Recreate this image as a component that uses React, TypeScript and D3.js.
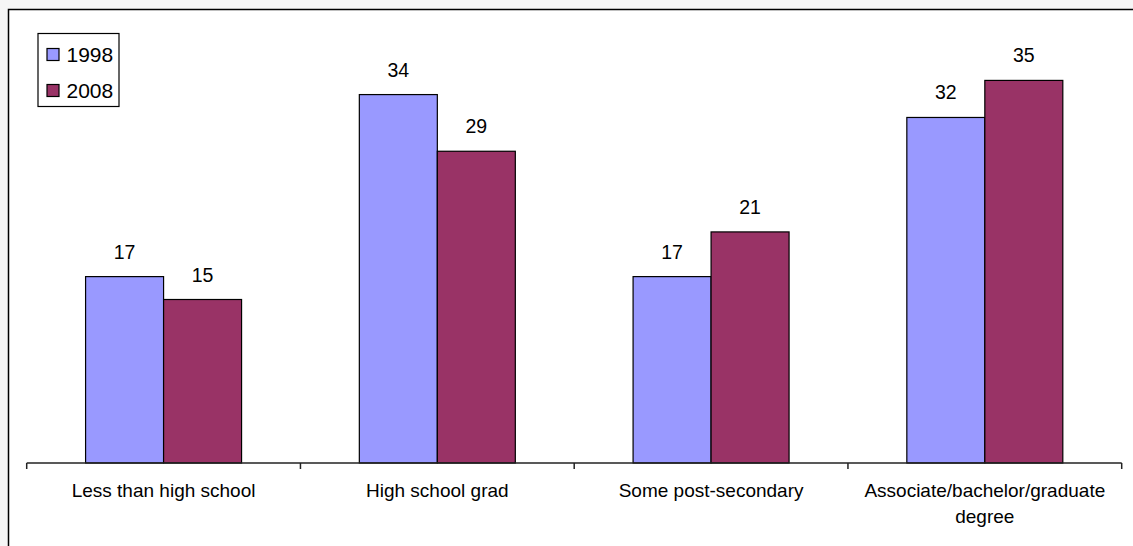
import React, { useEffect } from "react";
import * as d3 from "d3";

const categories = [
  "Less than high school",
  "High school grad",
  "Some post-secondary",
  "Associate/bachelor/graduate degree",
];
const series = ["1998", "2008"];
const values1998 = [17.1, 33.8, 17.1, 31.7];
const values2008 = [15.0, 28.6, 21.2, 35.1];
const colors = ["#9999FF", "#993366"];

const W = 1133;
const H = 546;
const FONT = "'Liberation Sans', Arial, sans-serif";

function wrapLabel(label: string): string[] {
  if (label === "Associate/bachelor/graduate degree") {
    return ["Associate/bachelor/graduate", "degree"];
  }
  return [label];
}

export default function App() {
  useEffect(() => {
    document.body.style.margin = "0";
    document.body.style.background = "#f6f6f6";
  }, []);

  const baseline = 463;
  const x = d3
    .scaleBand<string>()
    .domain(categories)
    .range([26.7, 1121.7])
    .paddingInner(0)
    .paddingOuter(0);
  const xs = d3
    .scaleBand<string>()
    .domain(series)
    .range([0, x.bandwidth()])
    .paddingInner(0)
    .paddingOuter(0.755);
  const y = d3.scaleLinear().domain([0, 40]).range([baseline, baseline - 40 * 10.9]);

  const data = [values1998, values2008];
  const fmt = d3.format(".0f");
  const tickXs = [...categories.map((c) => x(c)!), x.range()[1]];

  return (
    <svg
      width={W}
      height={H}
      style={{ position: "absolute", left: 0, top: 0, display: "block" }}
    >
      <rect x={0} y={0} width={W} height={H} fill="#f6f6f6" />
      <rect
        x={8.5}
        y={9.5}
        width={W + 20}
        height={H + 20}
        fill="#ffffff"
        stroke="#000"
        strokeWidth={1.5}
      />
      {/* bars */}
      {series.map((s, si) =>
        categories.map((c, ci) => {
          const v = data[si][ci];
          const bx = x(c)! + xs(s)!;
          return (
            <g key={s + c}>
              <rect
                x={bx}
                y={y(v)}
                width={xs.bandwidth()}
                height={baseline - y(v)}
                fill={colors[si]}
                stroke="#000"
                strokeWidth={1.2}
              />
              <text
                x={bx + xs.bandwidth() / 2}
                y={y(v) - 18}
                textAnchor="middle"
                fontFamily={FONT}
                fontSize={19.5}
                fill="#000"
              >
                {fmt(v)}
              </text>
            </g>
          );
        })
      )}
      {/* x axis */}
      <line
        x1={x.range()[0]}
        x2={x.range()[1]}
        y1={baseline}
        y2={baseline}
        stroke="#222"
        strokeWidth={1.5}
      />
      {tickXs.map((tx, i) => (
        <line
          key={i}
          x1={tx}
          x2={tx}
          y1={baseline}
          y2={baseline + 6}
          stroke="#222"
          strokeWidth={1.5}
        />
      ))}
      {categories.map((c) => (
        <text
          key={c}
          x={x(c)! + x.bandwidth() / 2}
          y={497}
          textAnchor="middle"
          fontFamily={FONT}
          fontSize={19}
          fill="#000"
        >
          {wrapLabel(c).map((line, li) => (
            <tspan key={li} x={x(c)! + x.bandwidth() / 2} dy={li === 0 ? 0 : 25.5}>
              {line}
            </tspan>
          ))}
        </text>
      ))}
      {/* legend */}
      <rect x={38} y={33.5} width={81} height={73} fill="#fff" stroke="#000" strokeWidth={1.2} />
      {series.map((s, i) => (
        <g key={s}>
          <rect
            x={47}
            y={48.5 + i * 36}
            width={12}
            height={12}
            fill={colors[i]}
            stroke="#000"
            strokeWidth={1.2}
          />
          <text x={66.5} y={62 + i * 35.5} fontFamily={FONT} fontSize={21} fill="#000">
            {s}
          </text>
        </g>
      ))}
    </svg>
  );
}
